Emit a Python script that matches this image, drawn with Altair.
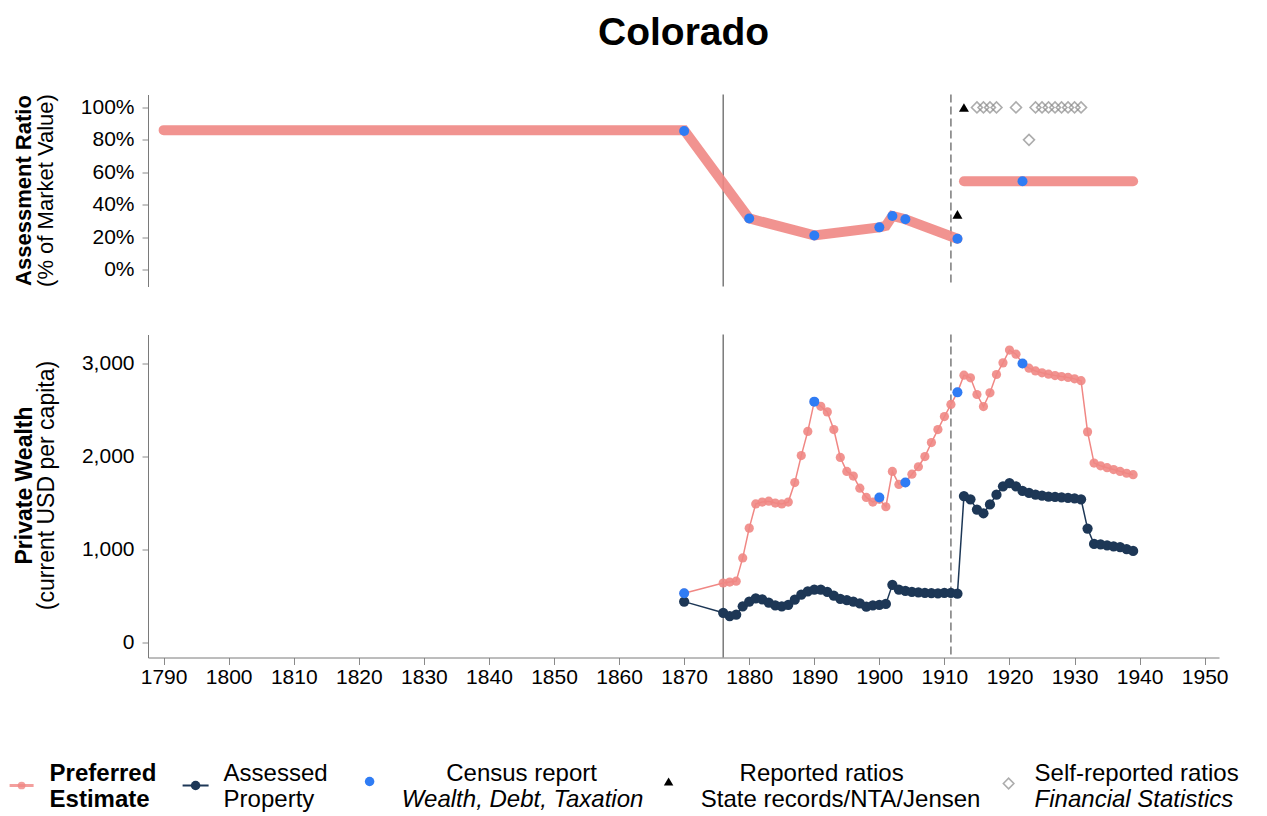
import altair as alt
import pandas as pd

FONT = "Liberation Sans"
PINK = "#F08784"
NAVY = "#1D3756"
BLUE = "#2F7CF4"
RULE = "#666666"

# ---------------- data ----------------
# Assessment ratio (% of market value), preferred estimate
ratio_years_early = [1790, 1870, 1880, 1890, 1900, 1901, 1902, 1904, 1912]
ratio_pref_early = [86, 86, 31.5, 21, 26, 27, 33, 31, 19]
ratio_years_late = [1913, 1939]
ratio_pref_late = [54.5, 54.5]

census_ratio_years = [1870, 1880, 1890, 1900, 1902, 1904, 1912, 1922]
census_ratio_values = [85.5, 31.5, 21, 26, 33, 31, 19, 54.5]

reported_years = [1912, 1913]
reported_values = [34, 100]

selfrep_years = [1915, 1916, 1917, 1918, 1921, 1923,
                 1924, 1925, 1926, 1927, 1928, 1929, 1930, 1931]
selfrep_values = [100, 100, 100, 100, 100, 80,
                  100, 100, 100, 100, 100, 100, 100, 100]

# Private wealth (current USD per capita)
wealth_years = [1870] + list(range(1876, 1940))
preferred_wealth = [
    530,
    640, 650, 660, 910, 1230, 1490, 1510, 1520, 1500, 1490,
    1510, 1720, 2010, 2270, 2590, 2540, 2480, 2290, 1990, 1840,
    1790, 1660, 1560, 1510, 1540, 1460, 1840, 1700, 1720, 1810,
    1890, 2000, 2150, 2290, 2430, 2560, 2690, 2875, 2846, 2667,
    2537, 2685, 2882, 3007, 3145, 3100, 3000, 2950, 2920, 2900,
    2885, 2870, 2860, 2850, 2835, 2815, 2265, 1930, 1900, 1880,
    1860, 1840, 1820, 1805,
]
assessed_wealth = [
    440,
    320, 285, 300, 390, 440, 475, 465, 430, 400, 388,
    405, 460, 515, 550, 570, 570, 545, 505, 470, 455,
    440, 420, 385, 400, 405, 415, 620, 570, 555, 545,
    540, 535, 530, 528, 533, 533, 525, 1575, 1540, 1430,
    1390, 1485, 1590, 1680, 1715, 1680, 1630, 1610, 1590, 1580,
    1570, 1565, 1560, 1555, 1550, 1540, 1225, 1060, 1055, 1045,
    1035, 1025, 1005, 985,
]
census_wealth_years = [1870, 1890, 1900, 1904, 1912, 1922]
census_wealth_values = [530, 2590, 1560, 1720, 2690, 3000]

statehood_year = [1876]
break_year = [1911]

x_ticks = [1790, 1800, 1810, 1820, 1830, 1840, 1850, 1860, 1870,
           1880, 1890, 1900, 1910, 1920, 1930, 1940, 1950]
ratio_ticks = [0, 20, 40, 60, 80, 100]
wealth_ticks = [0, 1000, 2000, 3000]

# ---------------- layout ----------------
W = 1071
H_TOP = 192
H_BOT = 323
PX0 = 146.4      # page x of plot left edge
PY_TOP = 95      # page y of top panel
PY_BOT = 335     # page y of bottom panel
TITLE_Y = 33     # page y of title centre
TITLE_SIZE = 39

xscale = alt.Scale(domain=[1787.6, 1952.2], nice=False, zero=False)
yscale_top = alt.Scale(domain=[-10.5, 108], nice=False, zero=False)
yscale_bot = alt.Scale(domain=[-161, 3312], nice=False, zero=False)

axis_common = dict(labelFont=FONT, labelFontSize=21, labelColor="black",
                   tickColor="#8a8a8a", domainColor="#7a7a7a", grid=False,
                   title=None, tickSize=6)


def txt(s, px, py, panel_top, size=24, weight="normal", style="normal",
        align="center", angle=0):
    df = pd.DataFrame({"t": [s]})
    return alt.Chart(df).mark_text(
        font=FONT, fontSize=size, fontWeight=weight, fontStyle=style,
        align=align, baseline="middle", angle=angle, color="black"
    ).encode(x=alt.value(px - PX0), y=alt.value(py - panel_top), text="t:N")


def sym(px, py, panel_top, **kw):
    df = pd.DataFrame({"k": [0]})
    return alt.Chart(df).mark_point(**kw).encode(
        x=alt.value(px - PX0), y=alt.value(py - panel_top))


def seg(px1, px2, py, panel_top, **kw):
    df = pd.DataFrame({"k": [0]})
    return alt.Chart(df).mark_rule(**kw).encode(
        x=alt.value(px1 - PX0), x2=alt.value(px2 - PX0),
        y=alt.value(py - panel_top))


# ---------------- top panel ----------------
top_pref = pd.DataFrame({
    "year": ratio_years_early + ratio_years_late,
    "value": ratio_pref_early + ratio_pref_late,
    "seg": ["a"] * len(ratio_years_early) + ["b"] * len(ratio_years_late),
})
top_census = pd.DataFrame({"year": census_ratio_years, "value": census_ratio_values})
top_rep = pd.DataFrame({"year": reported_years, "value": reported_values})
top_self = pd.DataFrame({"year": selfrep_years, "value": selfrep_values})
rule_solid = pd.DataFrame({"year": statehood_year})
rule_dash = pd.DataFrame({"year": break_year})

y_top = alt.Y("value:Q", scale=yscale_top,
              axis=alt.Axis(values=ratio_ticks, labelExpr="datum.value + '%'",
                            labelPadding=8, **axis_common))
x_top = alt.X("year:Q", scale=xscale, axis=None)

top_layers = [
    alt.Chart(rule_solid).mark_rule(color=RULE, strokeWidth=1.3).encode(x=x_top),
    alt.Chart(rule_dash).mark_rule(color=RULE, strokeWidth=1.3, strokeDash=[8, 4]).encode(x=x_top),
    alt.Chart(top_pref).mark_line(color=PINK, strokeWidth=10, opacity=0.9,
                                  strokeCap="round").encode(x=x_top, y=y_top, detail="seg:N"),
    alt.Chart(top_self).mark_point(shape="diamond", filled=False, color="#8a8a8a",
                                   strokeWidth=1.6, size=120).encode(x=x_top, y=y_top),
    alt.Chart(top_rep).mark_point(shape="triangle-up", filled=True, color="black",
                                  opacity=1, size=100).encode(x=x_top, y=y_top),
    alt.Chart(top_census).mark_circle(color=BLUE, size=100, opacity=1).encode(x=x_top, y=y_top),
    txt("Colorado", 682, TITLE_Y, PY_TOP, size=TITLE_SIZE, weight="bold"),
    txt("Assessment Ratio", 22, 191, PY_TOP, size=22, weight="bold", angle=270),
    txt("(% of Market Value)", 44, 191, PY_TOP, size=22, angle=270),
]
top = alt.layer(*top_layers).properties(width=W, height=H_TOP)

# ---------------- bottom panel ----------------
bot_df = pd.DataFrame({"year": wealth_years, "pref": preferred_wealth,
                       "assessed": assessed_wealth})
bot_census = pd.DataFrame({"year": census_wealth_years, "value": census_wealth_values})

x_bot = alt.X("year:Q", scale=xscale,
              axis=alt.Axis(values=x_ticks, format="d", labelPadding=2,
                            **{**axis_common, "tickSize": 7}))


def yb(field):
    return alt.Y(f"{field}:Q", scale=yscale_bot,
                 axis=alt.Axis(values=wealth_ticks,
                               labelExpr="format(datum.value, ',.0f')",
                               labelPadding=8, **axis_common))


bot_layers = [
    alt.Chart(rule_solid).mark_rule(color=RULE, strokeWidth=1.3).encode(x=x_bot),
    alt.Chart(rule_dash).mark_rule(color=RULE, strokeWidth=1.3, strokeDash=[8, 4]).encode(x=x_bot),
    alt.Chart(bot_df).mark_line(color=PINK, strokeWidth=1.5).encode(x=x_bot, y=yb("pref")),
    alt.Chart(bot_df).mark_circle(color=PINK, size=85, opacity=0.9).encode(x=x_bot, y=yb("pref")),
    alt.Chart(bot_df).mark_line(color=NAVY, strokeWidth=1.5).encode(x=x_bot, y=yb("assessed")),
    alt.Chart(bot_df).mark_circle(color=NAVY, size=105, opacity=1).encode(x=x_bot, y=yb("assessed")),
    alt.Chart(bot_census).mark_circle(color=BLUE, size=100, opacity=1).encode(x=x_bot, y=yb("value")),
    txt("Private Wealth", 23, 486, PY_BOT, size=23, weight="bold", angle=270),
    txt("(current USD per capita)", 45, 486, PY_BOT, size=23, angle=270),
    # legend
    seg(8, 32, 786, PY_BOT, color=PINK, strokeWidth=3, opacity=0.8),
    sym(20, 786, PY_BOT, shape="circle", filled=True, color=PINK, size=60, opacity=0.8),
    txt("Preferred", 48, 774, PY_BOT, weight="bold", align="left"),
    txt("Estimate", 48, 800, PY_BOT, weight="bold", align="left"),
    seg(181, 207, 786, PY_BOT, color=NAVY, strokeWidth=2),
    sym(194, 786, PY_BOT, shape="circle", filled=True, color=NAVY, size=90, opacity=1),
    txt("Assessed", 222, 774, PY_BOT, align="left"),
    txt("Property", 222, 800, PY_BOT, align="left"),
    sym(368, 782, PY_BOT, shape="circle", filled=True, color=BLUE, size=90, opacity=1),
    txt("Census report", 520, 774, PY_BOT),
    txt("Wealth, Debt, Taxation", 521, 800, PY_BOT, style="italic"),
    sym(667, 782, PY_BOT, shape="triangle-up", filled=True, color="black", size=90, opacity=1),
    txt("Reported ratios", 820, 774, PY_BOT),
    txt("State records/NTA/Jensen", 839, 800, PY_BOT),
    sym(1007, 784, PY_BOT, shape="diamond", filled=False, color="#8a8a8a", strokeWidth=1.6, size=110),
    txt("Self-reported ratios", 1033, 774, PY_BOT, align="left"),
    txt("Financial Statistics", 1033, 800, PY_BOT, style="italic", align="left"),
]
bottom = alt.layer(*bot_layers).properties(width=W, height=H_BOT)

pad_top = TITLE_Y - TITLE_SIZE / 2 - 8
chart = alt.vconcat(top, bottom, spacing=48, bounds="flush").properties(
    padding={"left": 0, "top": pad_top, "right": 0, "bottom": 0}
).configure(font=FONT).configure_view(stroke=None)

chart.save("out.html", embed_options={"renderer": "svg", "actions": False})
